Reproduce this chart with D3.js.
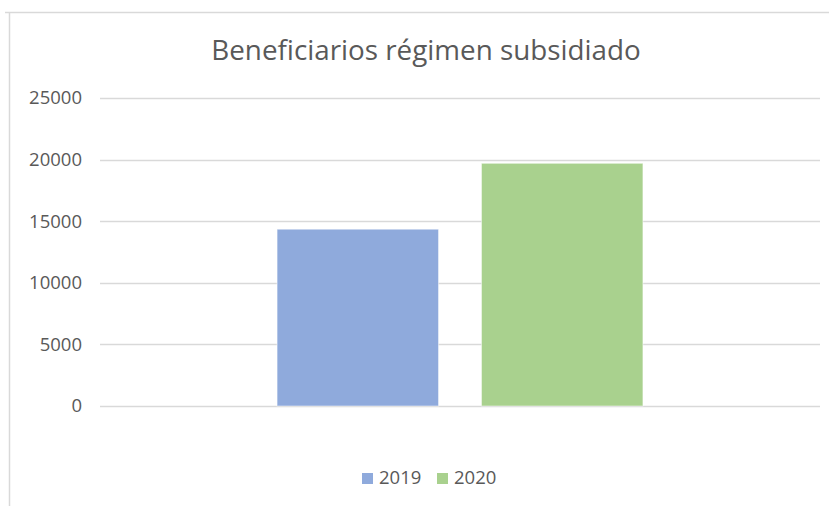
<!DOCTYPE html>
<html lang="es">
<head>
    <meta charset="utf-8">
    <title>Beneficiarios régimen subsidiado</title>
    <script src="https://d3js.org/d3.v7.min.js"></script>
    <style>
        body { margin: 0; background: #fff; }
    </style>
</head>
<body>
    <div id="chart-container"></div>

    <script>
        // data
        const categories = ['Beneficiarios'];
        const seriesNames = ['2019', '2020'];
        const seriesValues = [14350, 19700];
        const yTicks = [0, 5000, 10000, 15000, 20000, 25000];
        const colours = ['#8FAADC', '#A9D18E'];

        const width = 829;
        const height = 506;

        const plotLeft = 100;
        const plotRight = 820;
        const plotTop = 98;
        const plotBottom = 406;

        const fontFamily = '"Open Sans", sans-serif';

        const svg = d3.select('#chart-container')
            .append('svg')
            .attr('width', width)
            .attr('height', height)
            .style('font-family', fontFamily);

        // frame (top and left edges visible)
        svg.append('line')
            .attr('x1', 5).attr('y1', 12.5).attr('x2', width).attr('y2', 12.5)
            .style('stroke', '#D9D9D9').style('stroke-width', 1.5);
        svg.append('line')
            .attr('x1', 9.5).attr('y1', 12).attr('x2', 9.5).attr('y2', height)
            .style('stroke', '#D9D9D9').style('stroke-width', 1.5);

        const yScale = d3.scaleLinear()
            .domain([0, 25000])
            .range([plotBottom, plotTop]);

        const xOuter = d3.scaleBand()
            .domain(categories)
            .range([plotLeft, plotRight])
            .paddingInner(0)
            .paddingOuter(0.484);

        const xInner = d3.scaleBand()
            .domain(seriesNames)
            .range([0, xOuter.bandwidth()])
            .paddingInner(0.21)
            .paddingOuter(0);

        // grid lines
        svg.selectAll('line.grid')
            .data(yTicks)
            .enter()
            .append('line')
            .attr('class', 'grid')
            .attr('x1', plotLeft)
            .attr('x2', plotRight)
            .attr('y1', d => Math.round(yScale(d)) + 0.5)
            .attr('y2', d => Math.round(yScale(d)) + 0.5)
            .style('stroke', '#D9D9D9')
            .style('stroke-width', 1.5);

        // y axis labels
        const yAxis = d3.axisLeft(yScale)
            .tickValues(yTicks)
            .tickSize(0)
            .tickPadding(0)
            .tickFormat(d3.format('d'));

        const yAxisGroup = svg.append('g')
            .attr('transform', `translate(82, 0)`)
            .call(yAxis)
            .attr('font-family', null)
            .attr('font-size', null);
        yAxisGroup.select('.domain').remove();
        yAxisGroup.selectAll('text')
            .style('font-size', '18.5px')
            .style('fill', '#595959');

        // bars
        const group = svg.append('g')
            .attr('transform', `translate(${xOuter(categories[0])}, 0)`);

        group.selectAll('rect.bar')
            .data(seriesValues)
            .enter()
            .append('rect')
            .attr('class', 'bar')
            .attr('x', (d, i) => xInner(seriesNames[i]))
            .attr('y', d => yScale(d))
            .attr('width', xInner.bandwidth())
            .attr('height', d => yScale(0) - yScale(d))
            .style('fill', (d, i) => colours[i])
            .style('stroke', '#fff')
            .style('stroke-opacity', 0.5)
            .style('stroke-width', 1);

        // title
        svg.append('text')
            .attr('x', 426)
            .attr('y', 60)
            .attr('text-anchor', 'middle')
            .style('font-size', '27.8px')
            .style('fill', '#595959')
            .text('Beneficiarios régimen subsidiado');

        // legend
        const legendX = [362, 437];
        const legend = svg.append('g');
        legend.selectAll('rect')
            .data(seriesNames)
            .enter()
            .append('rect')
            .attr('x', (d, i) => legendX[i])
            .attr('y', 473)
            .attr('width', 11)
            .attr('height', 11)
            .style('fill', (d, i) => colours[i]);
        legend.selectAll('text')
            .data(seriesNames)
            .enter()
            .append('text')
            .attr('x', (d, i) => legendX[i] + 17)
            .attr('y', 484)
            .style('font-size', '18.5px')
            .style('fill', '#595959')
            .text(d => d);
    </script>
</body>
</html>
